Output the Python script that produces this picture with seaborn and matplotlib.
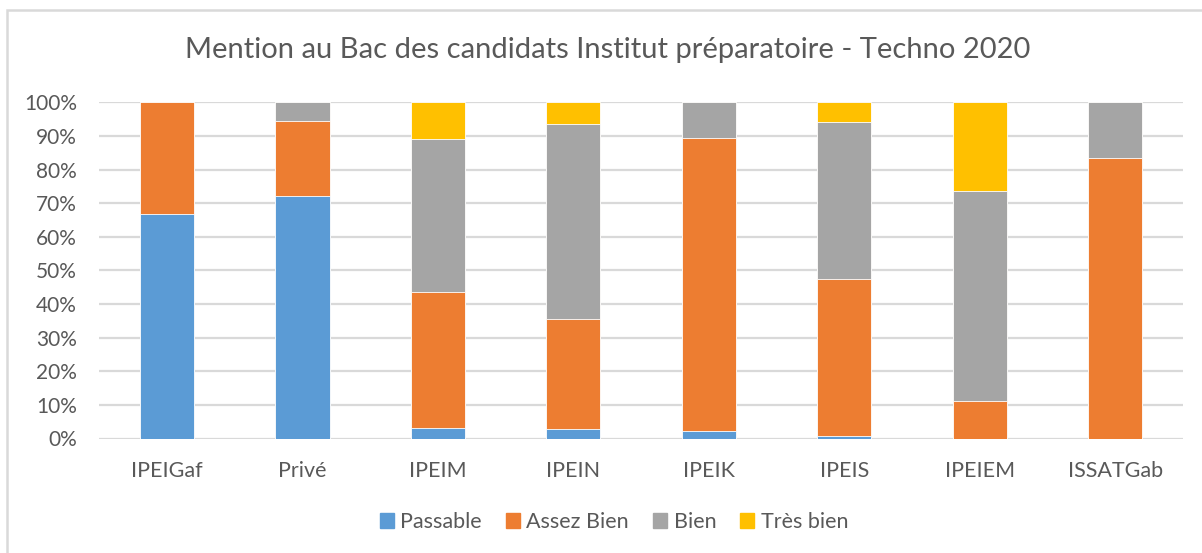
import matplotlib
matplotlib.use("Agg")
import matplotlib.pyplot as plt
import numpy as np
import pandas as pd
import seaborn as sns
from matplotlib.patches import Rectangle
from matplotlib.ticker import PercentFormatter

sns.set_theme(style="white")
plt.rcParams["font.family"] = ["Lato", "DejaVu Sans"]

_text = "#595959"
_grid = "#d9d9d9"

schools = ["IPEIGaf", "Privé", "IPEIM", "IPEIN", "IPEIK", "IPEIS", "IPEIEM", "ISSATGab"]
mentions = ["Passable", "Assez Bien", "Bien", "Très bien"]
colors = ["#5b9bd5", "#ed7d31", "#a5a5a5", "#ffc000"]

# shares in %
passable = [66.7, 72.2, 3.0, 2.7, 2.3, 0.8, 0.0, 0.0]
assez_bien = [33.3, 22.2, 40.5, 32.7, 87.2, 46.7, 11.3, 83.3]
bien = [0.0, 5.6, 45.5, 58.1, 10.5, 46.7, 62.4, 16.7]
tres_bien = [0.0, 0.0, 11.0, 6.5, 0.0, 5.8, 26.3, 0.0]

df = pd.DataFrame({"school": schools, "Passable": passable, "Assez Bien": assez_bien,
                   "Bien": bien, "Très bien": tres_bien})
totals = df[mentions].sum(axis=1)
for m in mentions:
    df[m] = df[m] / totals
cum = df[mentions].cumsum(axis=1)

fig = plt.figure(figsize=(12.02, 5.53), dpi=100)
ax = fig.add_axes([99.25 / 1202, 1 - 438.5 / 553, (1183 - 99.25) / 1202, (438.5 - 102.3) / 553])

# draw from top segment down so each layer hides the one above
for m, c in reversed(list(zip(mentions, colors))):
    sns.barplot(x=df["school"], y=cum[m], color=c, width=0.4, saturation=1,
                edgecolor="white", linewidth=0.6, ax=ax, zorder=3)

ax.set_ylim(0, 1)
ax.set_xlim(-0.5, len(schools) - 0.5)
ax.yaxis.set_major_locator(plt.MultipleLocator(0.1))
ax.yaxis.set_major_formatter(PercentFormatter(1.0, decimals=0))
ax.grid(axis="y", color=_grid, linewidth=1.6, zorder=0)
ax.set_axisbelow(True)
for s in ax.spines.values():
    s.set_visible(False)
ax.tick_params(axis="both", length=0, colors=_text)
ax.tick_params(axis="y", pad=16, labelsize=15)
ax.tick_params(axis="x", pad=16, labelsize=15.5)
ax.set_xlabel("")
ax.set_ylabel("")

handles = [Rectangle((0, 0), 1, 1, color=c) for c in colors]
fig.legend(handles, mentions, loc="center", bbox_to_anchor=(614 / 1202, 1 - 522 / 553),
           ncol=4, frameon=False, fontsize=15.5, labelcolor=_text,
           handlelength=0.65, handleheight=0.65, handletextpad=0.3, columnspacing=1.12)

fig.text(608 / 1202, 1 - 50 / 553, "Mention au Bac des candidats Institut préparatoire - Techno 2020",
         ha="center", va="center", fontsize=21, color=_text)

fig.patches.append(Rectangle((7 / 1202, -0.1), 1.2, 1 - 10 / 553 + 0.1, transform=fig.transFigure,
                             fill=False, edgecolor=_grid, linewidth=1.8))

fig.savefig("out.png", dpi=100)
